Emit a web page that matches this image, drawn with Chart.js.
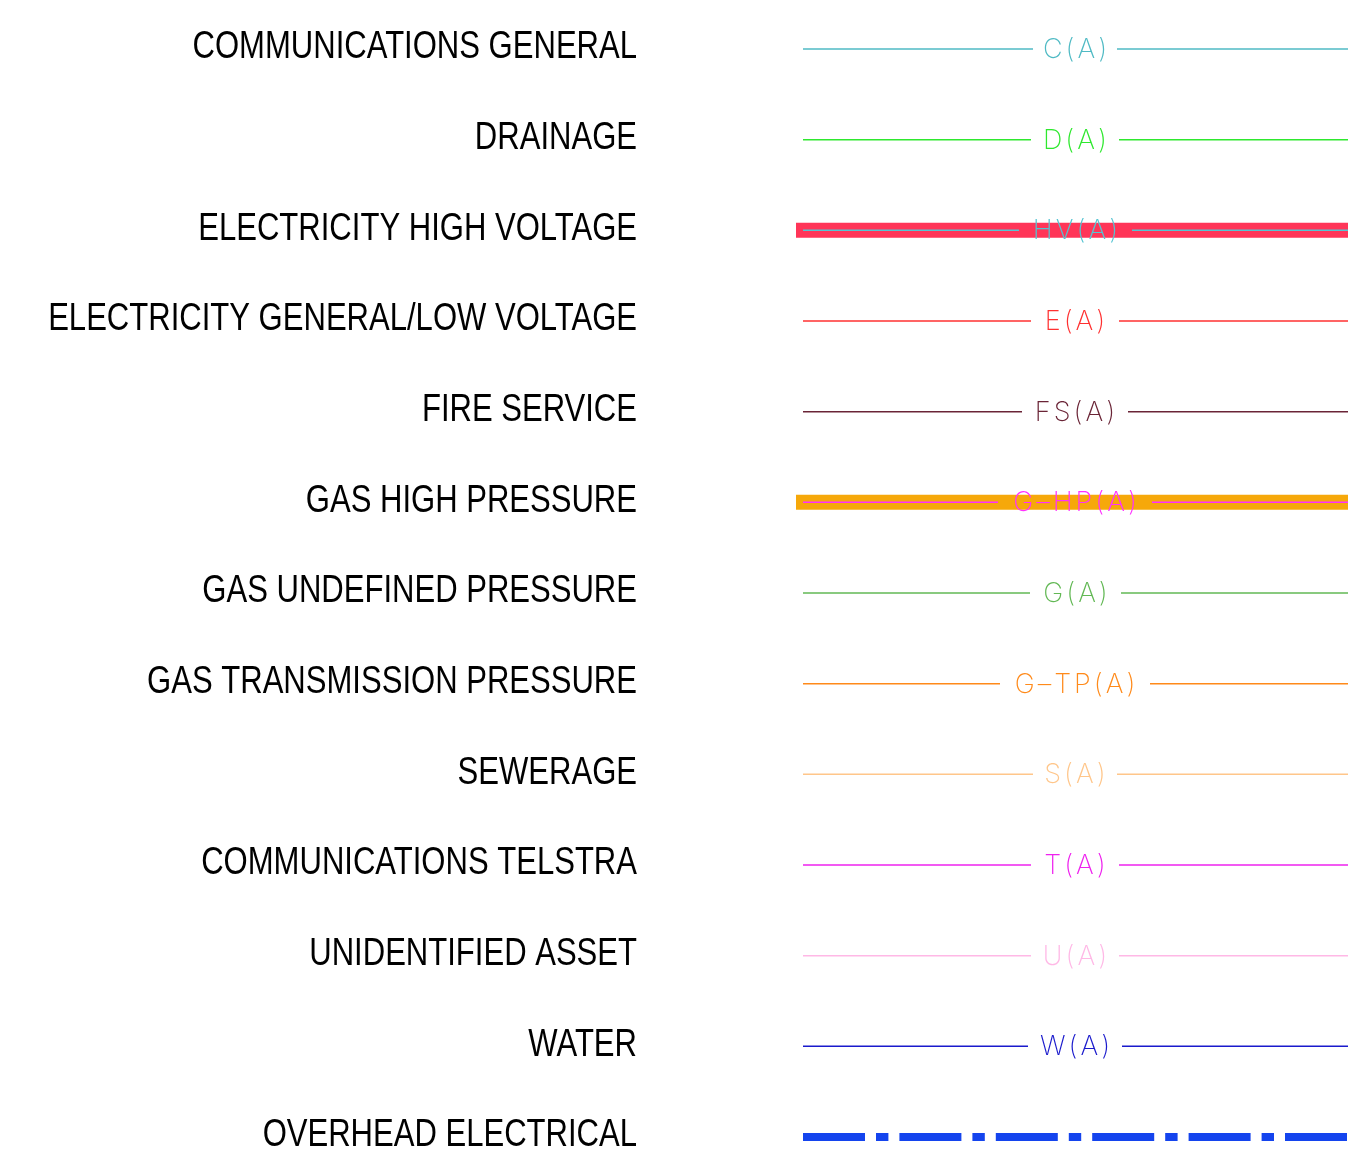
<!DOCTYPE html>
<html>
<head>
<meta charset="utf-8">
<script src="https://cdn.jsdelivr.net/npm/chart.js@4.4.0/dist/chart.umd.min.js"></script>
<style>
  body { margin: 0; background: #ffffff; }
  .chart-wrap { width: 1348px; height: 1152px; position: relative; }
</style>
</head>
<body>
<div class="chart-wrap"><canvas id="legendChart"></canvas></div>
<script>
// rows, top to bottom
let services = [
	'COMMUNICATIONS GENERAL', 'DRAINAGE', 'ELECTRICITY HIGH VOLTAGE',
	'ELECTRICITY GENERAL/LOW VOLTAGE', 'FIRE SERVICE', 'GAS HIGH PRESSURE',
	'GAS UNDEFINED PRESSURE', 'GAS TRANSMISSION PRESSURE', 'SEWERAGE',
	'COMMUNICATIONS TELSTRA', 'UNIDENTIFIED ASSET', 'WATER', 'OVERHEAD ELECTRICAL'
];
let codes = ['C(A)', 'D(A)', 'HV(A)', 'E(A)', 'FS(A)', 'G\u2013HP(A)', 'G(A)', 'G\u2013TP(A)', 'S(A)', 'T(A)', 'U(A)', 'W(A)', ''];
let lineColors = ['#4fbac4', '#2ee82e', '#55c4d2', '#ff3030', '#6a2436', '#ff30ff', '#62b854', '#ff8a1a', '#ffc68a', '#ee22ee', '#ffb8e6', '#1a1acc', '#1444ee'];

// line runs from lineStart to lineEnd, broken between gapLeft and gapRight for the code text
let lineStart = 803;
let lineEnd = 1348;
let gapLeft  = [1033, 1031, 1019, 1031, 1022, 998, 1030, 1000, 1033, 1031, 1031, 1028, null];
let gapRight = [1117, 1119, 1132, 1119, 1128, 1152, 1121, 1150, 1117, 1119, 1119, 1122, null];

// wide coloured bands under some rows
let bandRows = ['ELECTRICITY HIGH VOLTAGE', 'GAS HIGH PRESSURE'];
let bandColors = ['#ff3558', '#f6a80a'];
let bandStart = 796;

// overhead electrical dash-dot pattern
let overheadDash = [62, 11, 12.4, 11];

// where the service names end (right aligned)
let labelRight = 637;

let datasets = [];

// BEGIN bands
bandRows.forEach(function(row, i){
	datasets.push({
		data: [{x: bandStart, y: row}, {x: lineEnd, y: row}],
		borderColor: bandColors[i],
		borderWidth: 15,
		borderCapStyle: 'butt',
		pointRadius: 0,
		clip: false,
		order: 2
	});
});
// END bands

// BEGIN service lines
services.forEach(function(row, i){
	if (gapLeft[i] === null) {
		datasets.push({
			data: [{x: lineStart, y: row}, {x: lineEnd, y: row}],
			borderColor: lineColors[i],
			borderWidth: 8,
			borderDash: overheadDash,
			borderCapStyle: 'butt',
			pointRadius: 0,
			clip: false,
			order: 1
		});
		return;
	}
	[[lineStart, gapLeft[i]], [gapRight[i], lineEnd]].forEach(function(seg){
		datasets.push({
			data: [{x: seg[0], y: row}, {x: seg[1], y: row}],
			borderColor: lineColors[i],
			borderWidth: 1.5,
			pointRadius: 0,
			clip: false,
			order: 1
		});
	});
});
// END service lines

// service names on the left, narrow Arial-like lettering
let serviceNames = {
	id: 'serviceNames',
	afterDraw: function(chart){
		let ctx = chart.ctx;
		let yScale = chart.scales.y;
		ctx.save();
		ctx.font = '38px "Liberation Sans", Arial, sans-serif';
		ctx.fillStyle = '#000000';
		ctx.textAlign = 'right';
		ctx.textBaseline = 'middle';
		services.forEach(function(row, i){
			let cy = yScale.getPixelForValue(i);
			ctx.save();
			ctx.translate(labelRight, cy - 1);
			ctx.scale(0.817, 1);
			ctx.fillText(row, 0, 0);
			ctx.restore();
		});
		ctx.restore();
	}
};

// draws the code in the middle of each line gap
let codeLabels = {
	id: 'codeLabels',
	afterDatasetsDraw: function(chart){
		let ctx = chart.ctx;
		let xScale = chart.scales.x;
		let yScale = chart.scales.y;
		ctx.save();
		ctx.font = '250 27px Inter, "DejaVu Sans", sans-serif';
		ctx.letterSpacing = '3px';
		ctx.textAlign = 'center';
		ctx.textBaseline = 'middle';
		services.forEach(function(row, i){
			if (!codes[i]) {return}
			let cx = xScale.getPixelForValue((gapLeft[i] + gapRight[i]) / 2);
			let cy = yScale.getPixelForValue(i);
			ctx.fillStyle = lineColors[i];
			ctx.fillText(codes[i], cx + 1.5, cy + 1);
		});
		ctx.restore();
	}
};

let legendChart = new Chart(document.getElementById('legendChart'), {
	type: 'line',
	data: { labels: services, datasets: datasets },
	plugins: [codeLabels, serviceNames],
	options: {
		responsive: true,
		maintainAspectRatio: false,
		animation: false,
		layout: { padding: { top: 49, bottom: 15, left: bandStart, right: 0 } },
		plugins: { legend: { display: false }, tooltip: { enabled: false } },
		scales: {
			x: { type: 'linear', min: bandStart, max: lineEnd, display: false },
			y: { type: 'category', labels: services, offset: false, display: false }
		}
	}
});
</script>
</body>
</html>
